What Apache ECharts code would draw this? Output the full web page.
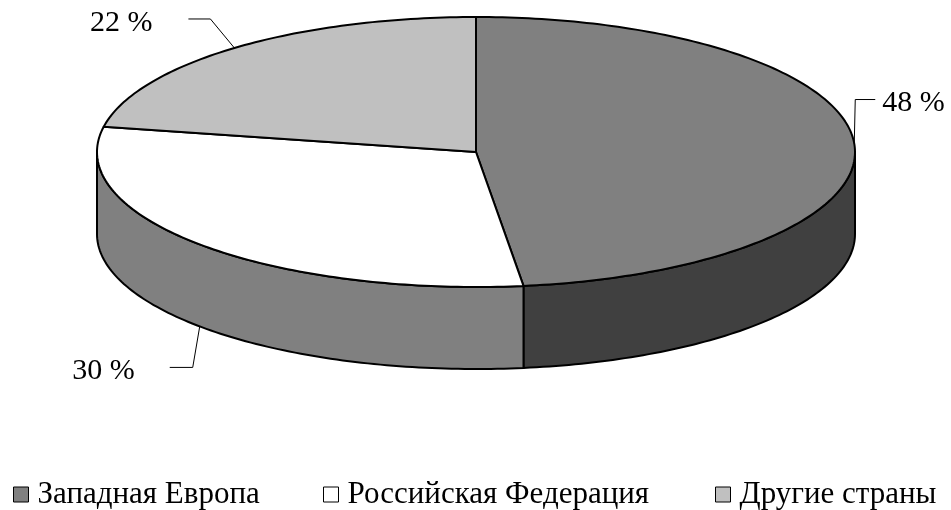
<!DOCTYPE html>
<html>
<head>
<meta charset="utf-8">
<script src="https://cdn.jsdelivr.net/npm/echarts@6.0.0/dist/echarts.min.js"></script>
<style>
  html, body { margin: 0; padding: 0; background: #fff; }
  #chart { width: 951px; height: 510px; }
</style>
</head>
<body>
<div id="chart"></div>
<script>
// data
const categories = ['Западная Европа', 'Российская Федерация', 'Другие страны'];
const values = [48, 30, 22];

// look
const topColors = ['#808080', '#ffffff', '#c0c0c0'];
const sideColors = ['#404040', '#808080', '#606060'];
const FONT = '"Liberation Serif", "Times New Roman", serif';

// pie geometry (px)
const CX = 476, CY = 152, RX = 379, RY = 135, DEPTH = 82;

// leader lines: which edge, elbow offset, tail length, text gap
const labelLayout = [
    { onSide: false, elbow: [1, -44], tail: 20, gap: 7, align: 'left' },
    { onSide: true, elbow: [-7, 41], tail: -23, gap: 35, align: 'right' },
    { onSide: false, elbow: [-24, -29], tail: -22, gap: 36, align: 'right' }
];

const total = values.reduce((a, b) => a + b, 0);

function pt(deg, dy) {
    const r = deg * Math.PI / 180;
    return [CX + RX * Math.sin(r), CY - RY * Math.cos(r) + dy];
}
function arc(a, b, dy) {
    const n = Math.max(2, Math.ceil(Math.abs(b - a)));
    const pts = [];
    for (let k = 0; k <= n; k++) pts.push(pt(a + (b - a) * k / n, dy));
    return pts;
}

function renderSlice(params, api) {
    const i = params.seriesIndex;
    let before = 0;
    for (let k = 0; k < i; k++) before += values[k];
    const start = before / total * 360;
    const end = start + api.value(0) / total * 360;
    const children = [];

    // front side (only the part facing the viewer)
    const s = Math.max(start, 90), e = Math.min(end, 270);
    if (e > s) {
        children.push({
            type: 'polygon',
            z2: 1,
            shape: { points: arc(s, e, 0).concat(arc(e, s, DEPTH)) },
            style: { fill: sideColors[i], stroke: '#000', lineWidth: 2, lineJoin: 'round' }
        });
    }
    // top face
    children.push({
        type: 'polygon',
        z2: 10,
        shape: { points: [[CX, CY]].concat(arc(start, end, 0)) },
        style: { fill: topColors[i], stroke: '#000', lineWidth: 2, lineJoin: 'round' }
    });
    // label + leader line
    const L = labelLayout[i];
    const mid = (start + end) / 2;
    const p0 = pt(mid, L.onSide ? DEPTH : 0);
    const p1 = [p0[0] + L.elbow[0], p0[1] + L.elbow[1]];
    const p2 = [p1[0] + L.tail, p1[1]];
    children.push({
        type: 'polyline',
        z2: 20,
        shape: { points: [p0, p1, p2] },
        style: { stroke: '#000', lineWidth: 1, fill: null }
    });
    children.push({
        type: 'text',
        z2: 20,
        style: {
            text: api.value(0) + ' %',
            x: p2[0] + (L.align === 'left' ? L.gap : -L.gap),
            y: p2[1] + 4,
            align: L.align,
            verticalAlign: 'middle',
            fontFamily: FONT,
            fontSize: 30,
            fill: '#000'
        }
    });
    return { type: 'group', children: children };
}

const legendLeft = [13, 323, 715];

const chart = echarts.init(document.getElementById('chart'));
chart.setOption({
    animation: false,
    backgroundColor: '#fff',
    legend: categories.map((c, i) => ({
        data: [c],
        left: legendLeft[i],
        top: 479,
        padding: 0,
        icon: 'rect',
        itemWidth: 15,
        itemHeight: 15,
        itemStyle: { borderColor: '#000', borderWidth: 1 },
        selectedMode: false,
        textStyle: { fontFamily: FONT, fontSize: 31, color: '#000', padding: [0, 0, 0, 4] }
    })),
    series: categories.map((c, i) => ({
        type: 'custom',
        name: c,
        coordinateSystem: 'none',
        silent: true,
        itemStyle: { color: topColors[i] },
        data: [values[i]],
        renderItem: renderSlice
    }))
});
</script>
</body>
</html>
